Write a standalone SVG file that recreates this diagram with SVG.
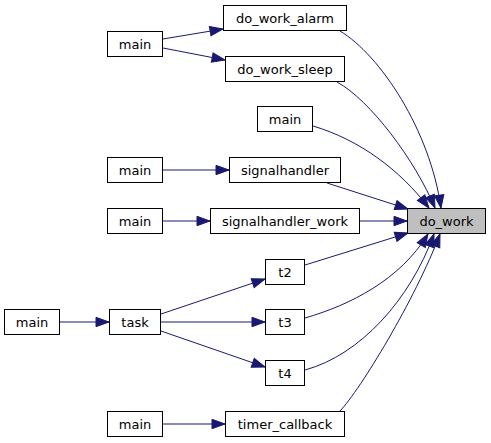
<svg xmlns="http://www.w3.org/2000/svg" width="491" height="443" viewBox="0 0 491 443">
<defs>
<marker id="ah" markerUnits="userSpaceOnUse" markerWidth="14" markerHeight="10" refX="13" refY="4.7" orient="auto" overflow="visible">
<path d="M0,0 L13,4.7 L0,9.4 z" fill="#191970" stroke="#191970" stroke-width="1"/>
</marker>
</defs>
<style>
.n rect{fill:#ffffff;stroke:#000000;stroke-width:1}
.n.h rect{fill:#bfbfbf}
.n text{font-family:"DejaVu Sans",sans-serif;font-size:13px;text-anchor:middle;fill:#000000}
.e path{fill:none;stroke:#191970;stroke-width:1;marker-end:url(#ah)}
</style>
<rect width="491" height="443" fill="#ffffff"/>
<g id="edges" class="e">
<path d="M163,39 L223,29"/>
<path d="M163,48 L225,60"/>
<path d="M340,31 C380,55 430,130 441,208"/>
<path d="M337,82 C370,100 415,160 435,208"/>
<path d="M313,126 C360,140 400,170 429,208"/>
<path d="M327,183 L408,209"/>
<path d="M360,221 L407,221"/>
<path d="M305,265 L408,233"/>
<path d="M305,318 C350,305 400,280 428,234"/>
<path d="M305,370 C360,355 410,300 434,234"/>
<path d="M340,411 C360,390 415,300 440,234"/>
<path d="M163,170 L229,170"/>
<path d="M163,221 L210,221"/>
<path d="M60,322 L109,322"/>
<path d="M161,314 L265,279"/>
<path d="M161,322 L265,322"/>
<path d="M161,331 L265,367"/>
<path d="M163,424 L225,424"/>
</g>
<g id="node_do_work" class="n h"><rect x="407.5" y="208.5" width="78" height="25"/><text x="446.5" y="225.5">do_work</text></g>
<g id="node_do_work_alarm" class="n"><rect x="223.5" y="5.5" width="123" height="25"/><text x="285" y="22.5">do_work_alarm</text></g>
<g id="node_main1" class="n"><rect x="107.5" y="31.5" width="55" height="25"/><text x="135" y="48.5">main</text></g>
<g id="node_do_work_sleep" class="n"><rect x="225.5" y="56.5" width="119" height="25"/><text x="285" y="73.5">do_work_sleep</text></g>
<g id="node_main2" class="n"><rect x="257.5" y="106.5" width="55" height="25"/><text x="285" y="123.5">main</text></g>
<g id="node_signalhandler" class="n"><rect x="229.5" y="157.5" width="111" height="25"/><text x="285" y="174.5">signalhandler</text></g>
<g id="node_main3" class="n"><rect x="107.5" y="157.5" width="55" height="25"/><text x="135" y="174.5">main</text></g>
<g id="node_signalhandler_work" class="n"><rect x="210.5" y="208.5" width="149" height="25"/><text x="285" y="225.5">signalhandler_work</text></g>
<g id="node_main4" class="n"><rect x="107.5" y="208.5" width="55" height="25"/><text x="135" y="225.5">main</text></g>
<g id="node_t2" class="n"><rect x="265.5" y="259.5" width="39" height="25"/><text x="285" y="276.5">t2</text></g>
<g id="node_t3" class="n"><rect x="265.5" y="309.5" width="39" height="25"/><text x="285" y="326.5">t3</text></g>
<g id="node_t4" class="n"><rect x="265.5" y="360.5" width="39" height="25"/><text x="285" y="377.5">t4</text></g>
<g id="node_task" class="n"><rect x="109.5" y="309.5" width="51" height="25"/><text x="135" y="326.5">task</text></g>
<g id="node_main5" class="n"><rect x="4.5" y="309.5" width="55" height="25"/><text x="32" y="326.5">main</text></g>
<g id="node_timer_callback" class="n"><rect x="225.5" y="411.5" width="119" height="25"/><text x="285" y="428.5">timer_callback</text></g>
<g id="node_main6" class="n"><rect x="107.5" y="411.5" width="55" height="25"/><text x="135" y="428.5">main</text></g>
</svg>
